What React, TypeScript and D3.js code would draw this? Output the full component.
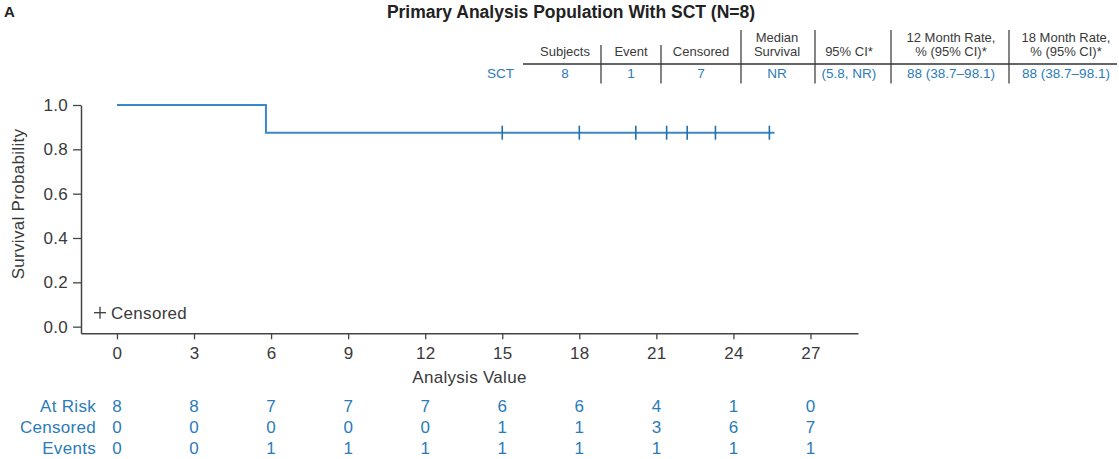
import React, { useRef, useEffect } from 'react';
import * as d3 from 'd3';

// Kaplan-Meier curve (step points) and censor times
const kmTimes = [0, 5.8, 25.6];
const kmSurvival = [1, 0.875, 0.875];
const censorTimes = [15.0, 18.0, 20.2, 21.4, 22.2, 23.3, 25.4];
const censorSurvival = 0.875;

// axis ticks
const xTicks = [0, 3, 6, 9, 12, 15, 18, 21, 24, 27];
const yTicks = [0, 0.2, 0.4, 0.6, 0.8, 1.0];

// numbers at risk table
const riskLabels = ['At Risk', 'Censored', 'Events'];
const atRisk = [8, 8, 7, 7, 7, 6, 6, 4, 1, 0];
const censoredCounts = [0, 0, 0, 0, 0, 1, 1, 3, 6, 7];
const eventCounts = [0, 0, 1, 1, 1, 1, 1, 1, 1, 1];

// summary table
const summaryHeaders = [
  ['Subjects'],
  ['Event'],
  ['Censored'],
  ['Median', 'Survival'],
  ['95% CI*'],
  ['12 Month Rate,', '% (95% CI)*'],
  ['18 Month Rate,', '% (95% CI)*'],
];
const summaryGroup = 'SCT';
const summaryValues = ['8', '1', '7', 'NR', '(5.8, NR)', '88 (38.7\u201398.1)', '88 (38.7\u201398.1)'];

const title = 'Primary Analysis Population With SCT (N=8)';

const BLUE = '#2b7bba';
const LINE = '#3b88c8';
const GRAY = '#3a3a3a';
const FONT = '"Liberation Sans", Arial, Helvetica, sans-serif';

const App = () => {
  const svgRef = useRef(null);

  useEffect(() => {
    const width = 1119;
    const height = 459;
    const svg = d3.select(svgRef.current);
    svg.selectAll('*').remove();
    svg.attr('width', width).attr('height', height).style('font-family', FONT);

    const xScale = d3.scaleLinear().domain([-1.4, 28.85]).range([81, 858]);
    const yScale = d3.scaleLinear().domain([-0.03, 1]).range([333.3, 105]);
    const axisY = yScale(-0.03);

    // panel letter + title
    svg.append('text')
      .attr('x', 4).attr('y', 17)
      .style('font-size', '15px').style('font-weight', 'bold').attr('fill', '#222')
      .text('A');
    svg.append('text')
      .attr('x', 571).attr('y', 18)
      .attr('text-anchor', 'middle')
      .style('font-size', '17.5px').style('font-weight', 'bold').attr('fill', '#222')
      .text(title);

    // summary table
    const colCenters = [565, 631, 701, 777, 849, 951, 1066];
    const colSeps = [601, 661, 741, 815, 891, 1009];
    const sepTops = [45, 45, 30, 30, 30, 30];
    const table = svg.append('g');
    summaryHeaders.forEach((lines, i) => {
      lines.forEach((ln, j) => {
        const yy = lines.length === 1 ? 51 : (j === 0 ? 37.3 : 51);
        table.append('text')
          .attr('x', colCenters[i]).attr('y', yy)
          .attr('dy', '0.35em')
          .attr('text-anchor', 'middle')
          .style('font-size', '13px').attr('fill', GRAY)
          .text(ln);
      });
      table.append('text')
        .attr('x', colCenters[i]).attr('y', 73.3)
        .attr('dy', '0.35em')
        .attr('text-anchor', 'middle')
        .style('font-size', '13.5px').attr('fill', BLUE)
        .text(summaryValues[i]);
    });
    colSeps.forEach((sx, i) => {
      table.append('line')
        .attr('x1', sx).attr('x2', sx)
        .attr('y1', sepTops[i]).attr('y2', 83.5)
        .attr('stroke', '#333').attr('stroke-width', 1.2);
    });
    table.append('line')
      .attr('x1', 523).attr('x2', 1117)
      .attr('y1', 64).attr('y2', 64)
      .attr('stroke', '#333').attr('stroke-width', 1.5);
    table.append('text')
      .attr('x', 514).attr('y', 73.3)
      .attr('dy', '0.35em')
      .attr('text-anchor', 'end')
      .style('font-size', '13.5px').attr('fill', BLUE)
      .text(summaryGroup);

    // axes
    const xAxis = svg.append('g')
      .attr('transform', `translate(0,${axisY})`)
      .call(d3.axisBottom(xScale).tickValues(xTicks).tickSize(6).tickSizeOuter(0).tickPadding(8));
    const yAxis = svg.append('g')
      .attr('transform', 'translate(81,0)')
      .call(d3.axisLeft(yScale).tickValues(yTicks).tickFormat(d3.format('.1f')).tickSize(8).tickSizeOuter(0).tickPadding(5));
    [xAxis, yAxis].forEach(g => {
      g.select('.domain').attr('stroke', '#444').attr('stroke-width', 1.5);
      g.selectAll('.tick line').attr('stroke', '#444').attr('stroke-width', 1.3);
      g.selectAll('.tick text')
        .attr('fill', GRAY)
        .style('font-size', '17px')
        .style('letter-spacing', '0.3px')
        .style('font-family', FONT);
    });

    // axis titles
    svg.append('text')
      .attr('x', 469.5).attr('y', 376.7)
      .attr('dy', '0.35em')
      .attr('text-anchor', 'middle')
      .style('font-size', '17px').style('letter-spacing', '0.3px').attr('fill', GRAY)
      .text('Analysis Value');
    svg.append('text')
      .attr('transform', 'translate(18,204) rotate(-90)')
      .attr('dy', '0.35em')
      .attr('text-anchor', 'middle')
      .style('font-size', '17px').style('letter-spacing', '0.3px').attr('fill', GRAY)
      .text('Survival Probability');

    // KM step line
    const kmData = kmTimes.map((t, i) => ({ t, s: kmSurvival[i] }));
    const line = d3.line()
      .x(d => xScale(d.t))
      .y(d => yScale(d.s))
      .curve(d3.curveStepAfter);
    svg.append('path')
      .datum(kmData)
      .attr('fill', 'none')
      .attr('stroke', LINE)
      .attr('stroke-width', 2)
      .attr('d', line);

    // censor marks
    svg.selectAll('.censor')
      .data(censorTimes)
      .enter()
      .append('line')
      .attr('class', 'censor')
      .attr('x1', d => xScale(d)).attr('x2', d => xScale(d))
      .attr('y1', yScale(censorSurvival) - 7).attr('y2', yScale(censorSurvival) + 7)
      .attr('stroke', '#2070b0').attr('stroke-width', 1.6);

    // legend
    const lg = svg.append('g').attr('transform', 'translate(100,312.7)');
    lg.append('line').attr('x1', -6).attr('x2', 6).attr('y1', 0).attr('y2', 0).attr('stroke', GRAY).attr('stroke-width', 1.3);
    lg.append('line').attr('x1', 0).attr('x2', 0).attr('y1', -6).attr('y2', 6).attr('stroke', GRAY).attr('stroke-width', 1.3);
    lg.append('text')
      .attr('x', 11).attr('y', 0).attr('dy', '0.35em')
      .style('font-size', '17px').style('letter-spacing', '0.3px').attr('fill', GRAY)
      .text('Censored');

    // risk table
    const rows = [atRisk, censoredCounts, eventCounts];
    const rowY = [406, 427.5, 448.3];
    rows.forEach((vals, r) => {
      svg.append('text')
        .attr('x', 96).attr('y', rowY[r]).attr('dy', '0.35em')
        .attr('text-anchor', 'end')
        .style('font-size', '17px').style('letter-spacing', '0.3px').attr('fill', BLUE)
        .text(riskLabels[r]);
      svg.append('g')
        .selectAll('text')
        .data(vals)
        .enter()
        .append('text')
        .attr('x', (d, i) => xScale(xTicks[i]))
        .attr('y', rowY[r]).attr('dy', '0.35em')
        .attr('text-anchor', 'middle')
        .style('font-size', '17px').attr('fill', BLUE)
        .text(d => d);
    });
  }, []);

  return (
    <svg ref={svgRef} style={{ position: 'absolute', left: 0, top: 0, background: '#fff' }}></svg>
  );
};

export default App;
